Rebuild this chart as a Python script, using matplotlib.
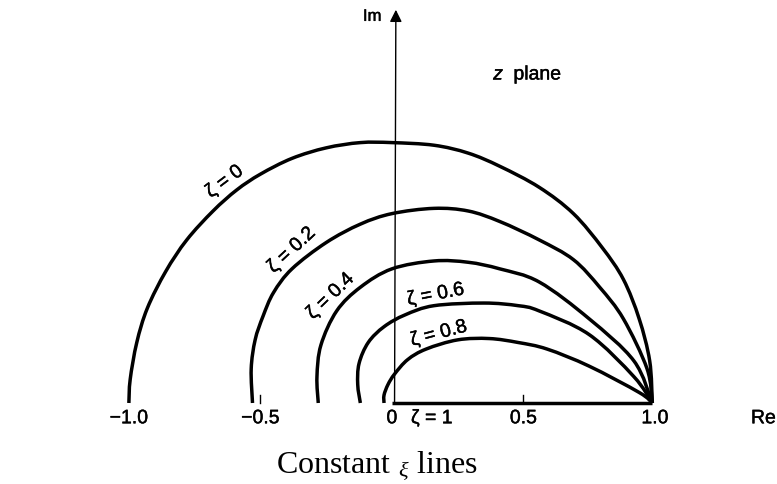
import matplotlib
matplotlib.use('Agg')
import matplotlib.pyplot as plt
import matplotlib.patheffects as pe
from matplotlib.path import Path
from matplotlib.patches import PathPatch

plt.rcParams['font.family'] = ['Liberation Sans', 'DejaVu Sans']
plt.rcParams['mathtext.fontset'] = 'custom'
plt.rcParams['mathtext.rm'] = 'Liberation Serif'
plt.rcParams['mathtext.it'] = 'Liberation Serif:italic'

# constant damping ratio loci (Re, Im)
zetas = ['0', '0.2', '0.4', '0.6', '0.8']

re_z0 = [-1.0, -0.995, -0.97, -0.93, -0.86, -0.78, -0.68, -0.59, -0.50,
         -0.38, -0.25, -0.12, 0.0, 0.16, 0.29, 0.41, 0.56, 0.69, 0.80, 0.88,
         0.94, 0.98, 0.99]
im_z0 = [0.0, 0.09, 0.23, 0.36, 0.50, 0.62, 0.73, 0.81, 0.87, 0.93, 0.97,
         0.99, 0.99, 0.98, 0.95, 0.90, 0.82, 0.72, 0.59, 0.47, 0.32, 0.16, 0.0]

re_z2 = [-0.53, -0.535, -0.52, -0.49, -0.45, -0.38, -0.25, -0.12, 0.0, 0.16,
         0.29, 0.41, 0.56, 0.69, 0.79, 0.88, 0.97, 0.99]
im_z2 = [0.0, 0.13, 0.24, 0.33, 0.42, 0.51, 0.61, 0.68, 0.72, 0.74, 0.73,
         0.69, 0.62, 0.545, 0.44, 0.32, 0.13, 0.0]

re_z4 = [-0.28, -0.285, -0.27, -0.21, -0.12, 0.0, 0.16, 0.29, 0.41, 0.56,
         0.75, 0.92, 0.99]
im_z4 = [0.0, 0.10, 0.22, 0.35, 0.44, 0.51, 0.54, 0.535, 0.51, 0.46, 0.32,
         0.16, 0.0]

re_z6 = [-0.12, -0.13, -0.125, -0.09, -0.03, 0.05, 0.16, 0.35, 0.48, 0.56,
         0.75, 0.92, 0.99]
im_z6 = [0.0, 0.07, 0.15, 0.23, 0.29, 0.335, 0.37, 0.38, 0.37, 0.35, 0.26,
         0.10, 0.0]

re_z8 = [-0.03, -0.03, -0.015, 0.01, 0.06, 0.13, 0.25, 0.37, 0.48, 0.59,
         0.75, 0.94, 0.99]
im_z8 = [0.0, 0.03, 0.07, 0.11, 0.165, 0.205, 0.24, 0.245, 0.23, 0.205,
         0.14, 0.04, 0.0]

# zeta = 1 lies on the real axis between 0 and 1
re_z10 = [0.0, 0.99]
im_z10 = [0.0, 0.0]

tick_vals = [-1.0, -0.5, 0.0, 0.5, 1.0]
tick_text = ['\u22121.0', '\u22120.5', '0', '0.5', '1.0']

# label anchors (Re, Im, rotation) for each curve
label_pos = [(-0.635, 0.84, 37), (-0.38, 0.58, 43), (-0.232, 0.405, 44),
             (0.167, 0.41, 11), (0.179, 0.262, 15)]


def smooth_path(xs, ys):
    # Catmull-Rom through the read points, drawn as cubic Bezier pieces
    pts = list(zip(xs, ys))
    verts = [pts[0]]
    codes = [Path.MOVETO]
    n = len(pts)
    for i in range(n - 1):
        p0 = pts[max(i - 1, 0)]
        p1 = pts[i]
        p2 = pts[i + 1]
        p3 = pts[min(i + 2, n - 1)]
        c1 = (p1[0] + (p2[0] - p0[0]) / 6.0, p1[1] + (p2[1] - p0[1]) / 6.0)
        c2 = (p2[0] - (p3[0] - p1[0]) / 6.0, p2[1] - (p3[1] - p1[1]) / 6.0)
        verts += [c1, c2, p2]
        codes += [Path.CURVE4] * 3
    return Path(verts, codes)


fig = plt.figure(figsize=(7.77, 4.85), dpi=100)
ax = fig.add_axes([0, 0, 1, 1])
ax.set_xlim(-1.49, 1.464)
ax.set_ylim(-0.308, 1.536)
ax.axis('off')

curves = [(re_z0, im_z0), (re_z2, im_z2), (re_z4, im_z4),
          (re_z6, im_z6), (re_z8, im_z8)]
for (re, im) in curves:
    ax.add_patch(PathPatch(smooth_path(re, im), facecolor='none',
                           edgecolor='black', lw=2.5, capstyle='butt'))
ax.plot(re_z10, im_z10, color='black', lw=2.5, solid_capstyle='butt')

# axes with arrows
ax.annotate('', xy=(1.47, -0.012), xytext=(-1.46, 0.0),
            arrowprops=dict(arrowstyle='-|>', color='black', lw=1.3,
                            mutation_scale=16, shrinkA=0, shrinkB=0))
ax.annotate('', xy=(0.015, 1.495), xytext=(0.01, 0.0),
            arrowprops=dict(arrowstyle='-|>', color='black', lw=1.0,
                            mutation_scale=18, shrinkA=0, shrinkB=0))

# small tick marks at +-0.5
for t in [-0.5, 0.5]:
    ax.plot([t, t], [0.0, 0.03], color='black', lw=1.0)

# scanned lettering is a bit heavier than the regular face
ink = [pe.withStroke(linewidth=0.3, foreground='black')]

for v, s in zip(tick_vals, tick_text):
    ax.text(v, -0.06, s, ha='center', va='center', fontsize=14,
            path_effects=ink)
ax.text(0.152, -0.06, '\u03b6 = 1', ha='center', va='center', fontsize=14,
        path_effects=ink)
ax.text(1.46, -0.06, 'Re', ha='right', va='center', fontsize=14,
        path_effects=ink)
ax.text(-0.075, 1.47, 'Im', ha='center', va='center', fontsize=12,
        path_effects=ink)
ax.text(0.385, 1.247, 'z', ha='left', va='center', fontsize=14,
        fontstyle='italic', path_effects=ink)
ax.text(0.462, 1.247, 'plane', ha='left', va='center', fontsize=14,
        path_effects=ink)

for z, (x, y, rot) in zip(zetas, label_pos):
    ax.text(x, y, '\u03b6 = ' + z, ha='center', va='center', fontsize=14,
            rotation=rot, rotation_mode='anchor', path_effects=ink)

ax.text(-0.057, -0.235, r'Constant $_{\xi}$ lines', ha='center', va='center',
        fontsize=23, family='Liberation Serif')

fig.savefig('out.png', dpi=100)
